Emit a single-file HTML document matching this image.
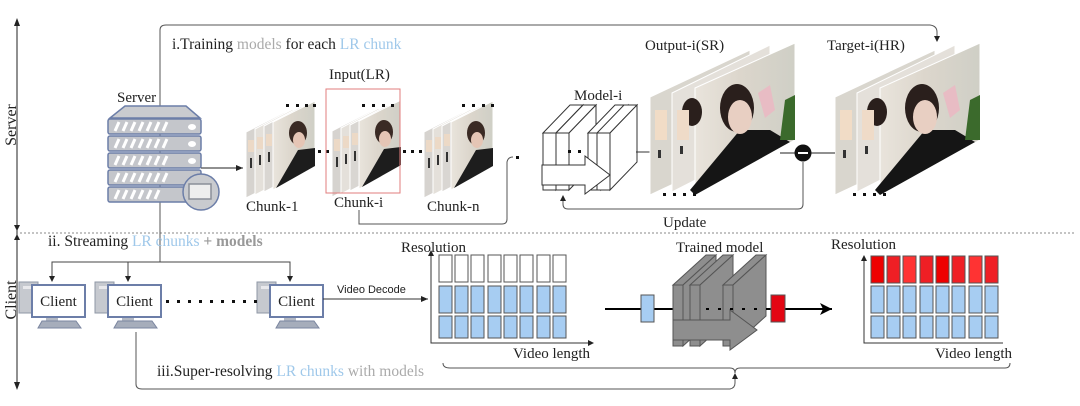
<!DOCTYPE html>
<html><head><meta charset="utf-8"><style>
html,body{margin:0;padding:0;background:#fff;}
svg{display:block;font-family:"Liberation Serif",serif;}
</style></head><body>
<svg width="1080" height="406" viewBox="0 0 1080 406" xmlns="http://www.w3.org/2000/svg">
<defs>
<marker id="ah" markerWidth="8" markerHeight="8" refX="7" refY="4" orient="auto" markerUnits="userSpaceOnUse"><path d="M0,1 L7,4 L0,7 z" fill="#222"/></marker>
<marker id="ahb" markerWidth="14" markerHeight="14" refX="12" refY="7" orient="auto" markerUnits="userSpaceOnUse"><path d="M0,1 L12,7 L0,13 L3,7 z" fill="#000"/></marker>
<linearGradient id="ph" x1="0" y1="0" x2="1" y2="0">
<stop offset="0" stop-color="#e9e4dc"/><stop offset="0.45" stop-color="#dcd6cc"/><stop offset="1" stop-color="#cfcfc6"/></linearGradient>
</defs>

<line x1="17" y1="22" x2="17" y2="386" stroke="#222" stroke-width="1"/>
<path d="M14,26 L17,18 L20,26z" fill="#222"/>
<path d="M14,382 L17,390 L20,382z" fill="#222"/>
<path d="M14,225 L17,231 L20,225z" fill="#222"/>
<path d="M14,240 L17,234 L20,240z" fill="#222"/>
<text transform="translate(16,125) rotate(-90)" font-size="16" text-anchor="middle" fill="#222">Server</text>
<text transform="translate(16,300) rotate(-90)" font-size="16" text-anchor="middle" fill="#222">Client</text>
<line x1="20" y1="233" x2="1075" y2="233" stroke="#888" stroke-width="1" stroke-dasharray="2,2"/>

<path d="M160,262 L160,30 Q160,25 166,25 L930,25 Q937,26 937,32 L937,38" fill="none" stroke="#555" stroke-width="1"/>
<path d="M934,36 L937,42 L940,36z" fill="#222"/>
<text x="172" y="49" font-size="15.5" fill="#222">i.Training <tspan fill="#aaa">models</tspan> for each <tspan fill="#9fc8ea">  LR chunk</tspan></text>

<text x="117" y="102" font-size="15" fill="#222">Server</text>
<path d="M110,118 L125,106 L186,106 L200,118z" fill="#c9cbcf" stroke="#6c7ea8" stroke-width="1.5"/>
<g fill="#c4c6cb" stroke="#6c7ea8" stroke-width="1.5">
<rect x="108" y="119" width="93" height="15" rx="2"/>
<rect x="108" y="136" width="93" height="15" rx="2"/>
<rect x="108" y="153" width="93" height="15" rx="2"/>
<rect x="108" y="170" width="93" height="15" rx="2"/>
<rect x="108" y="187" width="93" height="15" rx="2"/>
</g>
<g stroke="#fff" stroke-width="3">
<path d="M115,131 l4,-9 M123,131 l4,-9 M131,131 l4,-9 M139,131 l4,-9 M147,131 l4,-9 M155,131 l4,-9 M163,131 l4,-9"/>
<path d="M115,148 l4,-9 M123,148 l4,-9 M131,148 l4,-9 M139,148 l4,-9 M147,148 l4,-9 M155,148 l4,-9 M163,148 l4,-9"/>
<path d="M115,165 l4,-9 M123,165 l4,-9 M131,165 l4,-9 M139,165 l4,-9 M147,165 l4,-9 M155,165 l4,-9 M163,165 l4,-9"/>
<path d="M115,182 l4,-9 M123,182 l4,-9 M131,182 l4,-9 M139,182 l4,-9 M147,182 l4,-9 M155,182 l4,-9 M163,182 l4,-9"/>
<path d="M115,199 l4,-9 M123,199 l4,-9 M131,199 l4,-9 M139,199 l4,-9 M147,199 l4,-9 M155,199 l4,-9"/>
</g>
<g fill="#fff"><ellipse cx="192" cy="127" rx="4" ry="3"/><ellipse cx="192" cy="144" rx="4" ry="3"/><ellipse cx="192" cy="161" rx="4" ry="3"/></g>
<circle cx="201" cy="192" r="18" fill="#c9cbcf" stroke="#6c7ea8" stroke-width="1.5"/>
<rect x="189" y="184" width="22" height="15" fill="#eee" stroke="#8a8f99" stroke-width="1.5"/>
<line x1="201" y1="168" x2="243" y2="168" stroke="#222" marker-end="url(#ah)"/>

<g id="ch1">
<polygon points="246,132 285,112 285,178 246,198" fill="#d6d3cf" stroke="#fff"/>
<polygon points="255,129 293,109 293,175 255,195" fill="#e4e0da" stroke="#fff"/>
<polygon points="264,126 302,106 302,172 264,192" fill="#d9d6d2" stroke="#fff"/>
<polygon points="273,122 315,101 315,166 273,190" fill="url(#ph)" stroke="#fff"/>
<polygon points="276,188 298,150 315,148 315,166" fill="#1d1d1d"/>
<ellipse cx="298" cy="133" rx="9" ry="12" fill="#3a2a24"/>
<ellipse cx="299" cy="140" rx="6" ry="8" fill="#e5c5b5"/>
<g fill="#ecd9c6"><rect x="248" y="140" width="6" height="12"/><rect x="257" y="137" width="6" height="12"/><rect x="266" y="134" width="6" height="12"/></g>
<g fill="#333"><rect x="250" y="158" width="2" height="10"/><rect x="259" y="155" width="2" height="10"/><rect x="268" y="152" width="2" height="10"/></g>
</g>
<g fill="#111"><rect x="286" y="104" width="3" height="3"/><rect x="296" y="104" width="3" height="3"/><rect x="305" y="104" width="3" height="3"/><rect x="313" y="104" width="3" height="3"/></g>
<use href="#ch1" x="86" y="-1"/>
<use href="#ch1" x="178" y="0"/>
<g fill="#111"><rect x="362" y="104" width="3" height="3"/><rect x="372" y="104" width="3" height="3"/><rect x="382" y="104" width="3" height="3"/><rect x="391" y="104" width="3" height="3"/>
<rect x="462" y="104" width="3" height="3"/><rect x="472" y="104" width="3" height="3"/><rect x="482" y="104" width="3" height="3"/><rect x="491" y="104" width="3" height="3"/>
<rect x="318" y="150" width="3" height="3"/><rect x="326" y="150" width="3" height="3"/>
<rect x="403" y="150" width="3" height="3"/><rect x="411" y="150" width="3" height="3"/><rect x="419" y="150" width="3" height="3"/></g>
<rect x="326" y="89" width="74" height="104" fill="none" stroke="#e27d7d" stroke-width="1"/>
<text x="329" y="79" font-size="15" fill="#222">Input(LR)</text>
<text x="246" y="211" font-size="15" fill="#222">Chunk-1</text>
<text x="334" y="207" font-size="15" fill="#222">Chunk-i</text>
<text x="427" y="211" font-size="15" fill="#222">Chunk-n</text>
<path d="M359,210 L359,224 L502,224 Q507,224 507,219 L507,162 Q508,157 513,157" fill="none" stroke="#555"/>
<rect x="516" y="156" width="3" height="3" fill="#111"/>

<g fill="#fff" stroke="#333" stroke-width="1">
<g id="slab"><polygon points="543,133 570,105 583,105 556,133"/><polygon points="556,133 583,105 583,162 556,190"/><rect x="543" y="133" width="13" height="57"/></g>
<use href="#slab" x="13"/>
<use href="#slab" x="45"/>
<use href="#slab" x="54"/>
<polygon points="542,165 585,165 585,156 610,175 585,194 585,185 542,185"/>
</g>
<g fill="#111"><rect x="568" y="150" width="3" height="3"/><rect x="578" y="150" width="3" height="3"/></g>
<text x="574" y="100" font-size="15" fill="#222">Model-i</text>
<line x1="636" y1="152" x2="652" y2="152" stroke="#333"/>

<g id="out">
<polygon points="650,97 750,50 750,148 650,195" fill="#d9d6ce" stroke="#fff"/>
<polygon points="672,93 770,45 770,142 672,192" fill="#e4e0da" stroke="#fff"/>
<polygon points="695,88 795,43 795,140 695,195" fill="url(#ph)" stroke="#fff"/>
<polygon points="690,190 740,130 770,130 790,142 695,195" fill="#151515"/>
<ellipse cx="737" cy="108" rx="17" ry="24" fill="#2a1f1c"/>
<ellipse cx="740" cy="117" rx="12" ry="17" fill="#e8cfc2"/>
<polygon points="758,93 770,85 775,110 765,118" fill="#e8bcc4"/>
<polygon points="785,100 795,95 795,140 780,140" fill="#3b6a2c"/>
<ellipse cx="692" cy="112" rx="10" ry="14" fill="#2a1f1c"/>
<rect x="655" y="110" width="12" height="30" fill="#f1dcc6"/>
<rect x="677" y="110" width="12" height="30" fill="#efdbc8"/>
<g fill="#333"><rect x="658" y="150" width="3" height="8"/><rect x="680" y="146" width="3" height="8"/></g>
</g>
<g fill="#111"><rect x="663" y="193" width="3" height="3"/><rect x="673" y="193" width="3" height="3"/><rect x="683" y="193" width="3" height="3"/><rect x="693" y="193" width="3" height="3"/></g>
<text x="645" y="50" font-size="15" fill="#222">Output-i(SR)</text>
<use href="#out" x="185" y="0"/>
<g fill="#111"><rect x="853" y="193" width="3" height="3"/><rect x="863" y="193" width="3" height="3"/><rect x="873" y="193" width="3" height="3"/><rect x="883" y="193" width="3" height="3"/></g>
<text x="827" y="50" font-size="15" fill="#222">Target-i(HR)</text>
<line x1="780" y1="153" x2="835" y2="153" stroke="#222"/>
<circle cx="803" cy="153" r="8.5" fill="#111"/>
<line x1="798" y1="153" x2="808" y2="153" stroke="#fff" stroke-width="2"/>
<path d="M803,162 L803,204 Q803,209 798,209 L568,209 Q563,209 563,204 L563,200" fill="none" stroke="#555"/>
<path d="M560,201 L563,195 L566,201z" fill="#222"/>
<text x="663" y="227" font-size="15" fill="#222">Update</text>

<text x="48" y="246" font-size="15.5" fill="#222">ii. Streaming <tspan fill="#9fc8ea">LR chunks</tspan> <tspan fill="#999" font-weight="bold">+ models</tspan></text>
<path d="M52,277 L52,262 L290,262 L290,277" fill="none" stroke="#444"/>
<line x1="128" y1="262" x2="128" y2="277" stroke="#444"/>
<g fill="#222"><path d="M49,276 L52,282 L55,276z"/><path d="M125,276 L128,282 L131,276z"/><path d="M287,276 L290,282 L293,276z"/></g>

<g id="cl">
<rect x="19" y="282" width="19" height="31" fill="#c6c9cf" stroke="#8f97a6"/>
<rect x="23" y="286" width="11" height="3" fill="#e9e9ec"/>
<rect x="46" y="316" width="12" height="6" fill="#b5bac4"/>
<polygon points="38,328 42,321 76,321 81,328" fill="#a6adbb" stroke="#7b86a0"/>
<rect x="32" y="285" width="53" height="32" fill="#fff" stroke="#6c7ea8" stroke-width="2"/>
<text x="58.5" y="306" font-size="15" text-anchor="middle" fill="#222">Client</text>
</g>
<use href="#cl" x="76"/>
<use href="#cl" x="238"/>
<g fill="#111"><rect x="166" y="300" width="3" height="3"/><rect x="177" y="300" width="3" height="3"/><rect x="188" y="300" width="3" height="3"/><rect x="199" y="300" width="3" height="3"/><rect x="210" y="300" width="3" height="3"/><rect x="221" y="300" width="3" height="3"/><rect x="232" y="300" width="3" height="3"/><rect x="243" y="300" width="3" height="3"/><rect x="254" y="300" width="3" height="3"/></g>
<line x1="323" y1="299" x2="428" y2="299" stroke="#333" marker-end="url(#ah)"/>
<text x="337" y="293" font-family="Liberation Sans, sans-serif" font-size="11" fill="#222">Video Decode</text>

<text x="401" y="252" font-size="15" fill="#222">Resolution</text>
<text x="513" y="358" font-size="15" fill="#222">Video length</text>
<path d="M431,252 L431,343 L590,343" fill="none" stroke="#333"/>
<path d="M428,256 L431,250 L434,256z" fill="#222"/><path d="M588,340 L594,343 L588,346z" fill="#222"/>
<g stroke="#555" stroke-width="1">
<g fill="#fff"><rect x="439" y="255" width="13" height="27"/><rect x="455" y="255" width="13" height="27"/><rect x="471" y="255" width="13" height="27"/><rect x="488" y="255" width="13" height="27"/><rect x="504" y="255" width="13" height="27"/><rect x="520" y="255" width="13" height="27"/><rect x="537" y="255" width="13" height="27"/><rect x="553" y="255" width="13" height="27"/></g>
<g fill="#a7cdf2"><rect x="439" y="286" width="13" height="27"/><rect x="455" y="286" width="13" height="27"/><rect x="471" y="286" width="13" height="27"/><rect x="488" y="286" width="13" height="27"/><rect x="504" y="286" width="13" height="27"/><rect x="520" y="286" width="13" height="27"/><rect x="537" y="286" width="13" height="27"/><rect x="553" y="286" width="13" height="27"/>
<rect x="439" y="316" width="13" height="22"/><rect x="455" y="316" width="13" height="22"/><rect x="471" y="316" width="13" height="22"/><rect x="488" y="316" width="13" height="22"/><rect x="504" y="316" width="13" height="22"/><rect x="520" y="316" width="13" height="22"/><rect x="537" y="316" width="13" height="22"/><rect x="553" y="316" width="13" height="22"/></g>
</g>

<text x="676" y="252" font-size="15" fill="#222">Trained model</text>
<line x1="605" y1="309" x2="832" y2="309" stroke="#000" stroke-width="2" marker-end="url(#ahb)"/>
<rect x="641" y="295" width="13" height="27" fill="#a7cdf2" stroke="#555"/>
<g fill="#8e8e8e" stroke="#555" stroke-width="1">
<g id="gs"><polygon points="673,285 706,255 716,255 683,285"/><polygon points="683,285 716,255 716,316 683,346"/><rect x="673" y="285" width="10" height="61"/></g>
<use href="#gs" x="17"/>
<use href="#gs" x="50"/>
<polygon points="673,320 730,320 730,310 757,330 730,350 730,340 673,340"/>
</g>
<line x1="706" y1="309" x2="768" y2="309" stroke="#000" stroke-width="2" stroke-dasharray="3,9"/>
<rect x="771" y="295" width="14" height="27" fill="#e30613" stroke="#555"/>

<text x="831" y="249" font-size="15" fill="#222">Resolution</text>
<text x="935" y="358" font-size="15" fill="#222">Video length</text>
<path d="M864,257 L864,343 L1003,343" fill="none" stroke="#333"/>
<path d="M861,261 L864,255 L867,261z" fill="#222"/>
<g stroke="#555" stroke-width="1">
<g fill="#ef1f25"><rect x="871" y="256" width="13" height="27" fill="#e00"/><rect x="887" y="256" width="13" height="27"/><rect x="903" y="256" width="13" height="27" fill="#f33"/><rect x="920" y="256" width="13" height="27"/><rect x="936" y="256" width="13" height="27" fill="#e00"/><rect x="952" y="256" width="13" height="27"/><rect x="969" y="256" width="13" height="27" fill="#f33"/><rect x="985" y="256" width="13" height="27"/></g>
<g fill="#a7cdf2"><rect x="871" y="286" width="13" height="27"/><rect x="887" y="286" width="13" height="27"/><rect x="903" y="286" width="13" height="27"/><rect x="920" y="286" width="13" height="27"/><rect x="936" y="286" width="13" height="27"/><rect x="952" y="286" width="13" height="27"/><rect x="969" y="286" width="13" height="27"/><rect x="985" y="286" width="13" height="27"/>
<rect x="871" y="316" width="13" height="22"/><rect x="887" y="316" width="13" height="22"/><rect x="903" y="316" width="13" height="22"/><rect x="920" y="316" width="13" height="22"/><rect x="936" y="316" width="13" height="22"/><rect x="952" y="316" width="13" height="22"/><rect x="969" y="316" width="13" height="22"/><rect x="985" y="316" width="13" height="22"/></g>
</g>

<path d="M443,363 Q443,368 450,368 L730,368 Q735,368 735,373 Q735,368 740,368 L1005,368 Q1010,368 1010,363" fill="none" stroke="#555"/>
<path d="M136,332 L136,384 Q136,389 142,389 L730,389 Q735,388 735,383 L735,377" fill="none" stroke="#555"/>
<path d="M732,379 L735,373 L738,379z" fill="#222"/>
<text x="157" y="376" font-size="15.5" fill="#222">iii.Super-resolving <tspan fill="#9fc8ea">LR chunks</tspan> <tspan fill="#aaa">with models</tspan></text>
</svg>
</body></html>
